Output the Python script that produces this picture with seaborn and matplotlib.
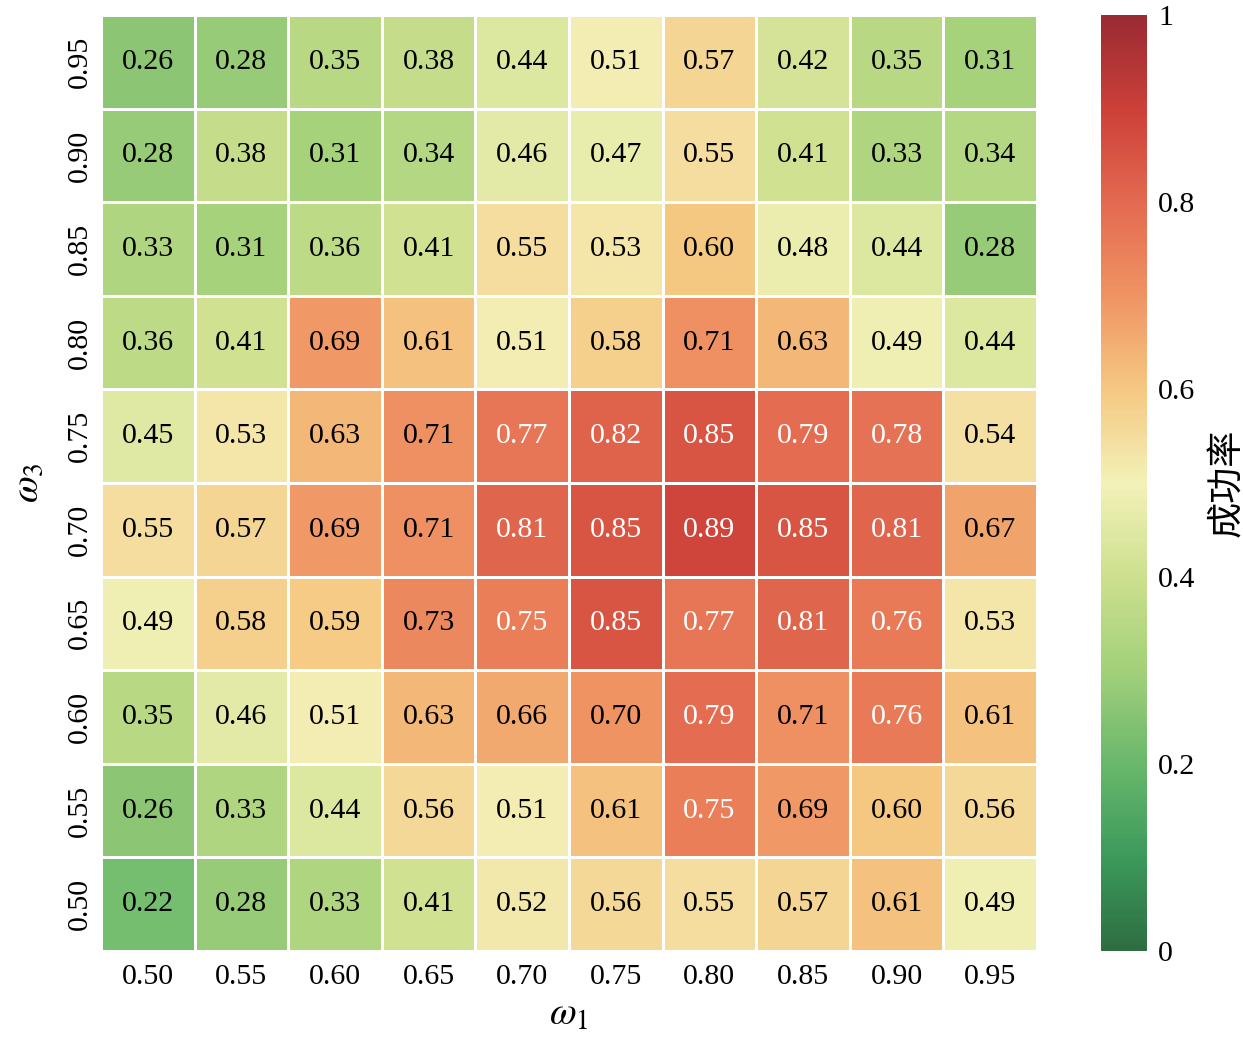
import numpy as np
import pandas as pd
import matplotlib
matplotlib.use("Agg")
import matplotlib.pyplot as plt
from matplotlib.colors import LinearSegmentedColormap
import seaborn as sns

w1_labels = ["0.50", "0.55", "0.60", "0.65", "0.70", "0.75", "0.80", "0.85", "0.90", "0.95"]
w3_labels = ["0.95", "0.90", "0.85", "0.80", "0.75", "0.70", "0.65", "0.60", "0.55", "0.50"]

row_095 = [0.26, 0.28, 0.35, 0.38, 0.44, 0.51, 0.57, 0.42, 0.35, 0.31]
row_090 = [0.28, 0.38, 0.31, 0.34, 0.46, 0.47, 0.55, 0.41, 0.33, 0.34]
row_085 = [0.33, 0.31, 0.36, 0.41, 0.55, 0.53, 0.60, 0.48, 0.44, 0.28]
row_080 = [0.36, 0.41, 0.69, 0.61, 0.51, 0.58, 0.71, 0.63, 0.49, 0.44]
row_075 = [0.45, 0.53, 0.63, 0.71, 0.77, 0.82, 0.85, 0.79, 0.78, 0.54]
row_070 = [0.55, 0.57, 0.69, 0.71, 0.81, 0.85, 0.89, 0.85, 0.81, 0.67]
row_065 = [0.49, 0.58, 0.59, 0.73, 0.75, 0.85, 0.77, 0.81, 0.76, 0.53]
row_060 = [0.35, 0.46, 0.51, 0.63, 0.66, 0.70, 0.79, 0.71, 0.76, 0.61]
row_055 = [0.26, 0.33, 0.44, 0.56, 0.51, 0.61, 0.75, 0.69, 0.60, 0.56]
row_050 = [0.22, 0.28, 0.33, 0.41, 0.52, 0.56, 0.55, 0.57, 0.61, 0.49]

cbar_ticks = [0, 0.2, 0.4, 0.6, 0.8, 1]
cbar_ticklabels = ["0", "0.2", "0.4", "0.6", "0.8", "1"]
white_text_threshold = 0.745

df = pd.DataFrame([row_095, row_090, row_085, row_080, row_075,
                   row_070, row_065, row_060, row_055, row_050],
                  index=w3_labels, columns=w1_labels)

cmap = LinearSegmentedColormap.from_list("soft_rdylgn_r", [
    (0.00, "#2e6e42"),
    (0.10, "#3c9a5c"),
    (0.20, "#6ab86c"),
    (0.30, "#a3d07a"),
    (0.40, "#cde08f"),
    (0.50, "#f3f1b8"),
    (0.60, "#f5c882"),
    (0.70, "#ef9463"),
    (0.80, "#e36a50"),
    (0.90, "#cd4039"),
    (1.00, "#9a2a33"),
])

plt.rcParams['font.family'] = ['Liberation Serif', 'Noto Sans CJK SC']
plt.rcParams['mathtext.fontset'] = 'stix'
plt.rcParams['xtick.major.size'] = 0
plt.rcParams['ytick.major.size'] = 0

fig = plt.figure(figsize=(12.43, 10.44), dpi=100)
ax = fig.add_axes([101/1243, 1 - 951/1044, 936/1243, 936/1044])
cax = fig.add_axes([1101/1243, 1 - 951/1044, 46/1243, 936/1044])

sns.heatmap(df, ax=ax, cbar_ax=cax, cmap=cmap, vmin=0, vmax=1,
            annot=True, fmt=".2f", annot_kws={"fontsize": 21.5},
            linewidths=0.8, linecolor="white",
            cbar_kws={"ticks": cbar_ticks})

for t in ax.texts:
    v = float(t.get_text())
    t.set_color("white" if v >= white_text_threshold else "black")

ax.set_xticklabels(w1_labels, fontsize=21.5, rotation=0, color="black")
ax.set_yticklabels(w3_labels, fontsize=21.5, rotation=90, va="center", color="black")
ax.tick_params(axis="x", pad=9)
ax.tick_params(axis="y", pad=6)
ax.set_xlabel(r"$\omega_1$", fontsize=28, labelpad=5)
ax.set_ylabel(r"$\omega_3$", fontsize=28, labelpad=14)

cax.set_yticklabels(cbar_ticklabels, fontsize=21.5, color="black")
cax.tick_params(length=0, pad=8)
cax.set_ylabel("成功率", fontsize=26, family=['Noto Sans CJK SC'], labelpad=10)
for s in cax.spines.values():
    s.set_visible(False)

fig.savefig("out.png", dpi=100)
